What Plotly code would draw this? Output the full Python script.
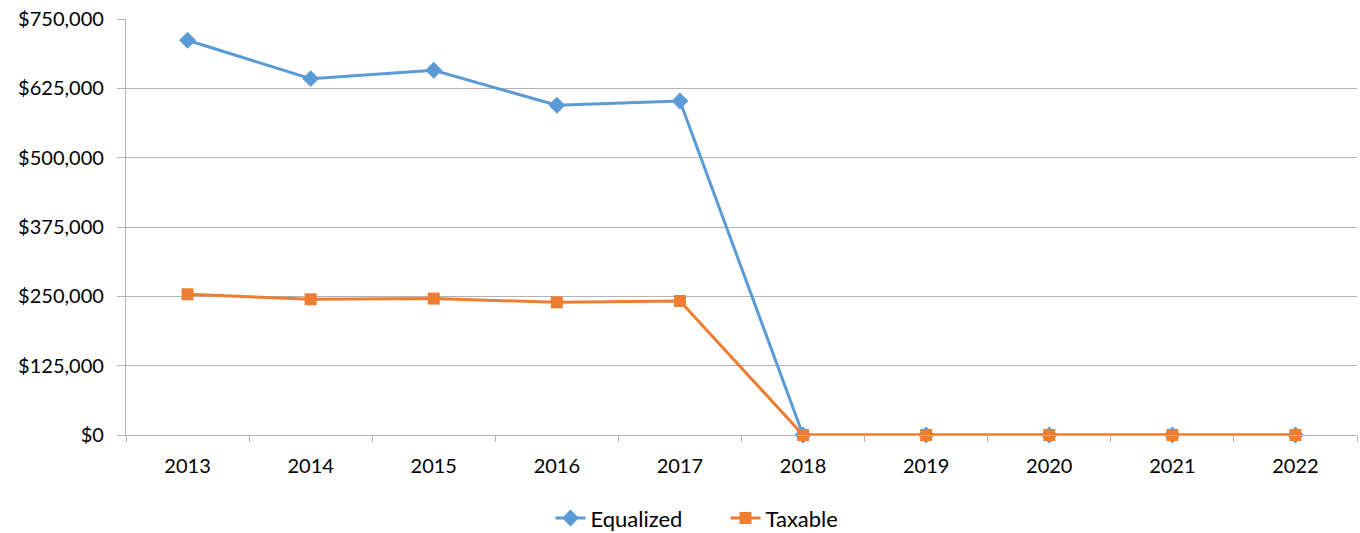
import plotly.graph_objects as go

years = ["2013", "2014", "2015", "2016", "2017", "2018", "2019", "2020", "2021", "2022"]
equalized = [711600, 642500, 657500, 594400, 602200, 0, 0, 0, 0, 0]
taxable = [253700, 244700, 245900, 239200, 241600, 0, 0, 0, 0, 0]
y_ticks = [0, 125000, 250000, 375000, 500000, 625000, 750000]
y_labels = ["$0", "$125,000", "$250,000", "$375,000", "$500,000", "$625,000", "$750,000"]

xpos = list(range(len(years)))

fig = go.Figure()
fig.add_trace(go.Scatter(
    x=xpos, y=equalized, name="Equalized", mode="lines+markers",
    line=dict(color="#5B9BD5", width=3),
    marker=dict(symbol="diamond", size=13, color="#5B9BD5"),
    cliponaxis=False,
))
fig.add_trace(go.Scatter(
    x=xpos, y=taxable, name="Taxable", mode="lines+markers",
    line=dict(color="#ED7D31", width=3),
    marker=dict(symbol="square", size=12, color="#ED7D31"),
    cliponaxis=False,
))

fig.update_layout(
    width=1360, height=533,
    margin=dict(l=126, r=3, t=19, b=98, autoexpand=False),
    paper_bgcolor="white", plot_bgcolor="white",
    font=dict(family="Lato, Open Sans, sans-serif", size=20, color="#000000"),
    showlegend=True,
    legend=dict(orientation="h", x=0.487, xanchor="center", y=-0.2, yanchor="middle",
                font=dict(size=22), entrywidth=130, itemwidth=30),
    xaxis=dict(
        range=[-0.5, len(years) - 0.5], tickvals=xpos, ticktext=years,
        ticks="", showgrid=False, zeroline=False, automargin=False,
        showline=True, linecolor="#b3b3b3", linewidth=1.3,
        minor=dict(tickmode="linear", tick0=-0.5, dtick=1, ticks="outside",
                   ticklen=6, tickcolor="#b3b3b3", tickwidth=1.3, showgrid=False),
        ticklabelstandoff=13, ticklabeloverflow="allow",
    ),
    yaxis=dict(
        range=[0, 750000], tickvals=y_ticks, ticktext=y_labels,
        ticks="outside", ticklen=8, tickcolor="#b3b3b3", tickwidth=1.3,
        showgrid=True, gridcolor="#b3b3b3", gridwidth=1.3, zeroline=False,
        showline=True, linecolor="#b3b3b3", linewidth=1.3, automargin=False,
        ticklabelstandoff=9, ticklabeloverflow="allow",
    ),
)

fig.write_html("out.html", config={"displayModeBar": False},
               post_script="document.body.style.margin='0';")
